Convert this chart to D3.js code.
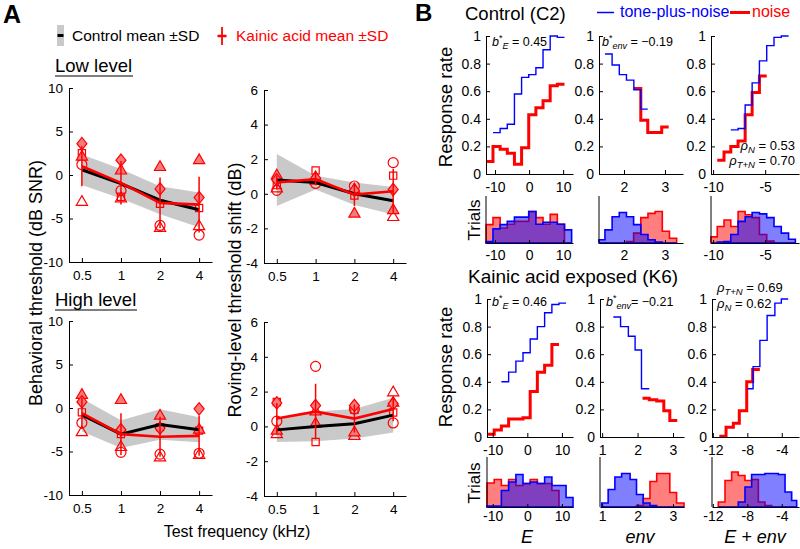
<!DOCTYPE html>
<html><head><meta charset="utf-8">
<script src="https://cdn.jsdelivr.net/npm/d3@7"></script>
<style>
body{margin:0;background:#fff;}
svg{display:block;font-family:"Liberation Sans",Arial,sans-serif;}
</style></head><body>
<svg id="chart" width="800" height="549"></svg>
<script>
// ---------------- DATA: Panel A ----------------
const freqLabels = ["0.5", "1", "2", "4"];
const subjectShapes = ["circle", "square", "triangle", "triangle", "diamond"];
const subjectFilled = [false, false, false, true, true];

// Low level, behavioral threshold (dB SNR)
const lowThrCtrlMean = [0.6, -1.0, -2.9, -4.0];
const lowThrCtrlSD = [1.75, 1.7, 1.6, 2.0];
const lowThrKAMean = [1.0, -0.9, -3.2, -3.4];
const lowThrKASD = [2.3, 2.5, 2.9, 3.2];
const lowThrCircle = [1.2, -1.8, -5.8, -6.9];
const lowThrSquare = [2.5, -2.5, -3.3, -3.8];
const lowThrTriOpen = [-3.0, -2.6, -6.0, -5.8];
const lowThrTriFilled = [2.2, 0.6, 1.0, 1.8];
const lowThrDiamond = [3.6, 1.7, -1.6, -2.6];

// Low level, roving-level threshold shift (dB)
const lowShiftCtrlMean = [0.8, 0.65, 0.0, -0.4];
const lowShiftCtrlSD = [1.5, 0.4, 0.65, 0.8];
const lowShiftKAMean = [0.65, 0.85, -0.05, 0.15];
const lowShiftKASD = [0.4, 0.35, 0.65, 1.3];
const lowShiftCircle = [0.2, 0.6, 0.45, 1.8];
const lowShiftSquare = [0.5, 1.35, -0.1, 1.05];
const lowShiftTriOpen = [0.35, 0.8, 0.3, -1.3];
const lowShiftTriFilled = [1.1, 1.0, -1.1, -0.9];
const lowShiftDiamond = [0.8, 0.9, 0.2, 0.25];

// High level, behavioral threshold (dB SNR)
const highThrCtrlMean = [-0.8, -3.0, -1.9, -2.5];
const highThrCtrlSD = [1.9, 1.6, 1.75, 1.45];
const highThrKAMean = [-0.6, -3.0, -3.3, -3.2];
const highThrKASD = [1.8, 2.4, 2.3, 2.3];
const highThrCircle = [-1.7, -5.1, -5.3, -5.2];
const highThrSquare = [-0.5, -3.0, -2.2, -2.6];
const highThrTriOpen = [-2.7, -4.4, -5.6, -5.3];
const highThrTriFilled = [1.6, 1.0, -0.8, -2.4];
const highThrDiamond = [0.7, -2.5, -2.3, -0.1];

// High level, roving-level threshold shift (dB)
const highShiftCtrlMean = [-0.2, 0.0, 0.15, 0.65];
const highShiftCtrlSD = [0.7, 0.85, 0.85, 1.0];
const highShiftKAMean = [0.45, 0.85, 0.45, 1.0];
const highShiftKASD = [0.9, 1.6, 0.8, 0.7];
const highShiftCircle = [0.3, 3.45, 1.0, 0.2];
const highShiftSquare = [1.4, -0.9, 0.95, 0.8];
const highShiftTriOpen = [-0.4, 0.9, -0.5, 2.0];
const highShiftTriFilled = [-0.2, 0.2, -0.3, 1.4];
const highShiftDiamond = [1.35, 1.2, 1.2, 1.3];

const thrTicks = [-10, -5, 0, 5, 10];
const shiftTicks = [-4, -2, 0, 2, 4, 6];

// ---------------- DATA: Panel B ----------------
const respTicks = [0, 0.2, 0.4, 0.6, 0.8, 1];

// Control (C2) — E
const c2E_blueEdges = [-10.6, -8.5, -6.4, -4.3, -2.2, -0.1, 2.0, 4.1, 6.2, 8.3, 10.4];
const c2E_blueRate = [0.30, 0.33, 0.36, 0.58, 0.70, 0.72, 0.77, 0.90, 1.0, 0.99];
const c2E_redEdges = [-12.6, -10.6, -8.5, -6.4, -4.3, -2.2, -0.1, 2.0, 4.1, 6.2, 8.3, 10.4];
const c2E_redRate = [0.09, 0.20, 0.18, 0.15, 0.07, 0.19, 0.43, 0.48, 0.53, 0.64, 0.65];
const c2E_histEdges = [-12.6, -10.6, -8.5, -6.4, -4.3, -2.2, -0.1, 2.0, 4.1, 6.2, 8.3, 10.4, 12.5];
const c2E_histRed = [39, 54, 32, 40, 46, 46, 67, 54, 40, 61, 40, 0];
const c2E_histBlue = [3, 30, 39, 46, 55, 55, 67, 40, 44, 44, 40, 28];

// Control (C2) — env
const c2Env_blueEdges = [1.535, 1.71, 1.885, 2.06, 2.24, 2.41, 2.58];
const c2Env_blueRate = [0.87, 0.79, 0.72, 0.68, 0.61, 0.47];
const c2Env_redEdges = [2.24, 2.41, 2.58, 2.75, 2.92, 3.09];
const c2Env_redRate = [0.62, 0.39, 0.30, 0.30, 0.34];
const c2Env_histEdges = [1.39, 1.535, 1.71, 1.885, 2.06, 2.235, 2.41, 2.585, 2.76, 2.935, 3.11, 3.285];
const c2Env_histBlue = [7, 28, 56, 65, 56, 39, 18, 7, 2, 0, 0];
const c2Env_histRed = [0, 0, 0, 0, 3, 21, 54, 63, 67, 25, 10];

// Control (C2) — E + env
const c2Sum_blueEdges = [-8.3, -7.6, -6.92, -6.25, -5.55, -4.85, -4.15, -3.45, -2.75];
const c2Sum_blueRate = [0.32, 0.33, 0.50, 0.66, 0.82, 0.93, 0.99, 1.0];
const c2Sum_redEdges = [-9.6, -8.95, -8.3, -7.6, -6.92, -6.25, -5.55, -4.85];
const c2Sum_redRate = [0.10, 0.16, 0.20, 0.24, 0.43, 0.59, 0.71];
const c2Sum_histEdges = [-10.2, -9.6, -8.95, -8.3, -7.6, -6.92, -6.25, -5.55, -4.85, -4.15, -3.45, -2.75, -2.1];
const c2Sum_histRed = [13, 35, 49, 35, 67, 60, 54, 18, 4, 0, 0, 0];
const c2Sum_histBlue = [0, 2, 3, 18, 46, 56, 65, 62, 54, 35, 21, 8];

// Kainic acid exposed (K6) — E
const k6E_blueEdges = [-7.5, -5.4, -3.3, -1.25, 0.83, 2.9, 5.0, 7.1, 9.15, 11.2];
const k6E_blueRate = [0.40, 0.47, 0.55, 0.61, 0.71, 0.80, 0.90, 0.96, 0.97];
const k6E_redEdges = [-11.65, -9.57, -7.5, -5.4, -3.3, -1.25, 0.83, 2.9, 5.0, 7.1, 9.15];
const k6E_redRate = [0.02, 0.05, 0.08, 0.13, 0.13, 0.14, 0.33, 0.47, 0.52, 0.67];
const k6E_histEdges = [-11.65, -9.57, -7.5, -5.4, -3.3, -1.25, 0.83, 2.9, 5.0, 7.1, 9.15, 11.2, 13.2];
const k6E_histRed = [48, 55, 43, 55, 43, 47, 55, 47, 47, 33, 0, 0];
const k6E_histBlue = [2, 2, 33, 50, 65, 47, 50, 47, 60, 43, 43, 19];

// Kainic acid exposed (K6) — env
const k6Env_blueEdges = [1.315, 1.52, 1.74, 1.93, 2.11, 2.33];
const k6Env_blueRate = [0.87, 0.80, 0.73, 0.63, 0.35];
const k6Env_redEdges = [2.14, 2.33, 2.54, 2.74, 2.91, 3.12];
const k6Env_redRate = [0.28, 0.27, 0.26, 0.19, 0.12];
const k6Env_histEdges = [0.99, 1.17, 1.36, 1.55, 1.79, 1.97, 2.16, 2.35, 2.54, 2.72, 2.91, 3.10, 3.31];
const k6Env_histBlue = [8, 35, 60, 67, 55, 25, 8, 3, 0, 0, 0, 0];
const k6Env_histRed = [0, 0, 0, 0, 0, 3, 17, 51, 67, 67, 29, 8];

// Kainic acid exposed (K6) — E + env
const k6Sum_blueEdges = [-8.0, -7.33, -6.54, -5.7, -4.8, -4.05, -3.26];
const k6Sum_blueRate = [0.35, 0.51, 0.70, 0.88, 0.97, 1.0];
const k6Sum_redEdges = [-11.25, -10.47, -9.62, -8.93, -8.07, -7.38, -6.54];
const k6Sum_redRate = [0.005, 0.07, 0.10, 0.19, 0.40, 0.49];
const k6Sum_histEdges = [-11.37, -10.59, -9.82, -9.05, -8.27, -7.5, -6.72, -5.95, -5.17, -4.4, -3.62, -2.85, -2.27];
const k6Sum_histRed = [10, 53, 70, 63, 53, 55, 10, 3, 0, 0, 0, 0];
const k6Sum_histBlue = [0, 0, 0, 10, 40, 65, 65, 67, 67, 65, 30, 13];

// ---------------- DRAWING ----------------
const RED = "#ff0000";
const BLUE = "#0000ff";
const MFILL = "#f27a7a";
const svg = d3.select("#chart");

function styleAxis(g, size) {
  g.attr("font-family", null).attr("font-size", size);
  g.selectAll("text").attr("fill", "#000");
  g.selectAll("path,line").attr("stroke", "#000").attr("stroke-width", 1);
}

function markerPath(type) {
  switch (type) {
    case "circle": return "M5,0A5,5 0 1,1 -5,0A5,5 0 1,1 5,0Z";
    case "square": return "M-3.6,-3.6H3.6V3.6H-3.6Z";
    case "triangle": return "M0,-5.5L5.6,4.2L-5.6,4.2Z";
    default: return "M0,-6.2L5,0L0,6.2L-5,0Z";
  }
}

function drawA(c) {
  const idx = d3.range(freqLabels.length);
  const x = d3.scaleLinear().domain([-0.33, 3.33]).range([c.x0, c.x1]);
  const y = d3.scaleLinear().domain(c.yDomain).range([c.yb, c.yt]);
  const g = svg.append("g");
  g.append("path").datum(idx)
    .attr("d", d3.area().x(i => x(i)).y0(i => y(c.cm[i] - c.csd[i])).y1(i => y(c.cm[i] + c.csd[i])))
    .attr("fill", "#c9c9c9");
  c.subj.forEach((vals, s) => {
    vals.forEach((v, i) => {
      g.append("path").attr("transform", `translate(${x(i)},${y(v)})`)
        .attr("d", markerPath(subjectShapes[s]))
        .attr("fill", subjectFilled[s] ? MFILL : "none")
        .attr("stroke", RED).attr("stroke-width", 1.2);
    });
  });
  g.append("path").datum(idx)
    .attr("d", d3.line().x(i => x(i)).y(i => y(c.cm[i])))
    .attr("fill", "none").attr("stroke", "#000").attr("stroke-width", 3);
  idx.forEach(i => {
    g.append("line").attr("x1", x(i)).attr("x2", x(i))
      .attr("y1", y(c.km[i] - c.ksd[i])).attr("y2", y(c.km[i] + c.ksd[i]))
      .attr("stroke", RED).attr("stroke-width", 1.5);
  });
  g.append("path").datum(idx)
    .attr("d", d3.line().x(i => x(i)).y(i => y(c.km[i])))
    .attr("fill", "none").attr("stroke", RED).attr("stroke-width", 2.6);
  const ax = g.append("g").attr("transform", `translate(0,${c.yb})`)
    .call(d3.axisBottom(x).tickValues(idx).tickFormat(i => freqLabels[i]).tickSizeInner(-4).tickSizeOuter(0).tickPadding(8));
  styleAxis(ax, 13.5);
  const ay = g.append("g").attr("transform", `translate(${c.x0},0)`)
    .call(d3.axisLeft(y).tickValues(c.yTicks).tickFormat(d => String(d)).tickSizeInner(-4).tickSizeOuter(0).tickPadding(6));
  styleAxis(ay, 13.5);
}

drawA({x0: 69, x1: 212, yt: 88, yb: 262, yDomain: [-10, 10], yTicks: thrTicks,
  cm: lowThrCtrlMean, csd: lowThrCtrlSD, km: lowThrKAMean, ksd: lowThrKASD,
  subj: [lowThrCircle, lowThrSquare, lowThrTriOpen, lowThrTriFilled, lowThrDiamond]});
drawA({x0: 264, x1: 406, yt: 90, yb: 263, yDomain: [-4, 6], yTicks: shiftTicks,
  cm: lowShiftCtrlMean, csd: lowShiftCtrlSD, km: lowShiftKAMean, ksd: lowShiftKASD,
  subj: [lowShiftCircle, lowShiftSquare, lowShiftTriOpen, lowShiftTriFilled, lowShiftDiamond]});
drawA({x0: 69, x1: 212, yt: 321, yb: 495, yDomain: [-10, 10], yTicks: thrTicks,
  cm: highThrCtrlMean, csd: highThrCtrlSD, km: highThrKAMean, ksd: highThrKASD,
  subj: [highThrCircle, highThrSquare, highThrTriOpen, highThrTriFilled, highThrDiamond]});
drawA({x0: 264, x1: 406, yt: 322, yb: 496, yDomain: [-4, 6], yTicks: shiftTicks,
  cm: highShiftCtrlMean, csd: highShiftCtrlSD, km: highShiftKAMean, ksd: highShiftKASD,
  subj: [highShiftCircle, highShiftSquare, highShiftTriOpen, highShiftTriFilled, highShiftDiamond]});

// Panel A texts
svg.append("text").attr("x", 3).attr("y", 23).attr("font-size", 25).attr("font-weight", "bold").text("A");
svg.append("rect").attr("x", 57).attr("y", 25).attr("width", 7).attr("height", 21).attr("fill", "#c9c9c9");
svg.append("line").attr("x1", 57.5).attr("x2", 63.5).attr("y1", 35.5).attr("y2", 35.5).attr("stroke", "#000").attr("stroke-width", 3);
svg.append("text").attr("x", 72).attr("y", 41).attr("font-size", 15.5).text("Control mean ±SD");
svg.append("line").attr("x1", 222).attr("x2", 222).attr("y1", 27).attr("y2", 45).attr("stroke", RED).attr("stroke-width", 1.8);
svg.append("line").attr("x1", 217.5).attr("x2", 226.5).attr("y1", 36).attr("y2", 36).attr("stroke", RED).attr("stroke-width", 2.5);
svg.append("text").attr("x", 236).attr("y", 41).attr("font-size", 15.5).attr("fill", RED).text("Kainic acid mean ±SD");
svg.append("text").attr("x", 55).attr("y", 72).attr("font-size", 18.5).text("Low level");
svg.append("line").attr("x1", 55).attr("x2", 133).attr("y1", 76).attr("y2", 76).attr("stroke", "#000").attr("stroke-width", 1.2);
svg.append("text").attr("x", 55).attr("y", 306).attr("font-size", 18.5).text("High level");
svg.append("line").attr("x1", 55).attr("x2", 137).attr("y1", 310).attr("y2", 310).attr("stroke", "#000").attr("stroke-width", 1.2);
svg.append("text").attr("transform", "translate(42,283) rotate(-90)").attr("text-anchor", "middle").attr("font-size", 18).text("Behavioral threshold (dB SNR)");
svg.append("text").attr("transform", "translate(241,290) rotate(-90)").attr("text-anchor", "middle").attr("font-size", 18).text("Roving-level threshold shift (dB)");
svg.append("text").attr("x", 237).attr("y", 537).attr("text-anchor", "middle").attr("font-size", 16).text("Test frequency (kHz)");

// ---------- Panel B ----------
function stepPts(edges, vals) {
  const p = vals.map((v, i) => [edges[i], v]);
  p.push([edges[vals.length], vals[vals.length - 1]]);
  return p;
}

function respPanel(c) {
  const x = d3.scaleLinear().domain(c.xd).range([c.x0, c.x1]);
  const y = d3.scaleLinear().domain([0, 1]).range([c.yb, c.yt]);
  const g = svg.append("g");
  const line = d3.line().x(d => x(d[0])).y(d => y(d[1])).curve(d3.curveStepAfter);
  g.append("path").attr("d", line(stepPts(c.redE, c.redV))).attr("fill", "none").attr("stroke", RED).attr("stroke-width", 3);
  g.append("path").attr("d", line(stepPts(c.blueE, c.blueV))).attr("fill", "none").attr("stroke", BLUE).attr("stroke-width", 1.4);
  const ax = g.append("g").attr("transform", `translate(0,${c.yb})`)
    .call(d3.axisBottom(x).tickValues(c.ticks).tickFormat(d => String(d)).tickSizeInner(-4).tickSizeOuter(0).tickPadding(8));
  styleAxis(ax, 14);
  const ay = g.append("g").attr("transform", `translate(${c.x0},0)`)
    .call(d3.axisLeft(y).tickValues(respTicks).tickFormat(d => d === 0 ? "0" : d === 1 ? "1" : d.toFixed(1)).tickSizeInner(-4).tickSizeOuter(0).tickPadding(5));
  styleAxis(ay, 14);
}

function histPanel(c) {
  const x = d3.scaleLinear().domain(c.xd).range([c.x0, c.x1]);
  const y = d3.scaleLinear().domain([0, 100]).range([c.yb, c.yt]);
  const g = svg.append("g");
  const line = d3.line().x(d => x(d[0])).y(d => y(d[1])).curve(d3.curveStepAfter);
  function pts(vals) {
    const p = [[c.edges[0], 0]].concat(stepPts(c.edges, vals));
    p.push([c.edges[vals.length], 0]);
    return p;
  }
  g.append("path").attr("d", line(pts(c.red)) + "Z").attr("fill", RED).attr("fill-opacity", 0.5)
    .attr("stroke", RED).attr("stroke-width", 1.6);
  g.append("path").attr("d", line(pts(c.blue)) + "Z").attr("fill", BLUE).attr("fill-opacity", 0.5)
    .attr("stroke", BLUE).attr("stroke-width", 1.6);
  const ax = g.append("g").attr("transform", `translate(0,${c.yb})`)
    .call(d3.axisBottom(x).tickValues(c.ticks).tickFormat(d => String(d)).tickSizeInner(-3).tickSizeOuter(0).tickPadding(c.pad));
  styleAxis(ax, 14);
  g.append("line").attr("x1", c.x0).attr("x2", c.x0).attr("y1", c.yt).attr("y2", c.yb).attr("stroke", "#000");
}

// layouts (top row: C2, bottom row: K6)
const colE = {x0: 486, x1: 573};
const colEnv = {x0: 599, x1: 683};
const colSum = {x0: 711, x1: 799};

respPanel({...colE, yt: 36, yb: 174, xd: [-12.65, 12.9], ticks: [-10, 0, 10],
  redE: c2E_redEdges, redV: c2E_redRate, blueE: c2E_blueEdges, blueV: c2E_blueRate});
respPanel({...colEnv, yt: 36, yb: 174, xd: [1.39, 3.44], ticks: [2, 3],
  redE: c2Env_redEdges, redV: c2Env_redRate, blueE: c2Env_blueEdges, blueV: c2Env_blueRate});
respPanel({...colSum, yt: 36, yb: 174, xd: [-10.2, -1.75], ticks: [-10, -5],
  redE: c2Sum_redEdges, redV: c2Sum_redRate, blueE: c2Sum_blueEdges, blueV: c2Sum_blueRate});
histPanel({...colE, yt: 196, yb: 243, pad: 7, xd: [-12.65, 12.9], ticks: [-10, 0, 10],
  edges: c2E_histEdges, red: c2E_histRed, blue: c2E_histBlue});
histPanel({...colEnv, yt: 196, yb: 243, pad: 7, xd: [1.39, 3.44], ticks: [2, 3],
  edges: c2Env_histEdges, red: c2Env_histRed, blue: c2Env_histBlue});
histPanel({...colSum, yt: 196, yb: 243, pad: 7, xd: [-10.2, -1.75], ticks: [-10, -5],
  edges: c2Sum_histEdges, red: c2Sum_histRed, blue: c2Sum_histBlue});

respPanel({x0: 487, x1: 573, yt: 299, yb: 437, xd: [-11.65, 13.2], ticks: [-10, 0, 10],
  redE: k6E_redEdges, redV: k6E_redRate, blueE: k6E_blueEdges, blueV: k6E_blueRate});
respPanel({x0: 600, x1: 684, yt: 299, yb: 437, xd: [0.94, 3.31], ticks: [1, 2, 3],
  redE: k6Env_redEdges, redV: k6Env_redRate, blueE: k6Env_blueEdges, blueV: k6Env_blueRate});
respPanel({x0: 712, x1: 799, yt: 299, yb: 437, xd: [-12.1, -2.0], ticks: [-12, -8, -4],
  redE: k6Sum_redEdges, redV: k6Sum_redRate, blueE: k6Sum_blueEdges, blueV: k6Sum_blueRate});
histPanel({x0: 487, x1: 573, yt: 457, yb: 507, pad: 4, xd: [-11.65, 13.2], ticks: [-10, 0, 10],
  edges: k6E_histEdges, red: k6E_histRed, blue: k6E_histBlue});
histPanel({x0: 600, x1: 684, yt: 457, yb: 507, pad: 4, xd: [0.94, 3.31], ticks: [1, 2, 3],
  edges: k6Env_histEdges, red: k6Env_histRed, blue: k6Env_histBlue});
histPanel({x0: 712, x1: 799, yt: 457, yb: 507, pad: 4, xd: [-12.1, -2.0], ticks: [-12, -8, -4],
  edges: k6Sum_histEdges, red: k6Sum_histRed, blue: k6Sum_histBlue});

// Panel B texts
svg.append("text").attr("x", 415).attr("y", 21).attr("font-size", 24).attr("font-weight", "bold").text("B");
svg.append("text").attr("x", 465).attr("y", 20).attr("font-size", 18.5).text("Control (C2)");
svg.append("line").attr("x1", 597).attr("x2", 614).attr("y1", 12.5).attr("y2", 12.5).attr("stroke", BLUE).attr("stroke-width", 1.5);
svg.append("text").attr("x", 620).attr("y", 17).attr("font-size", 16).attr("fill", BLUE).text("tone-plus-noise");
svg.append("line").attr("x1", 730).attr("x2", 750).attr("y1", 12.5).attr("y2", 12.5).attr("stroke", RED).attr("stroke-width", 3);
svg.append("text").attr("x", 752).attr("y", 17).attr("font-size", 16).attr("fill", RED).text("noise");
svg.append("text").attr("x", 468).attr("y", 283).attr("font-size", 19).text("Kainic acid exposed (K6)");

[107, 367].forEach(cy => {
  svg.append("text").attr("transform", `translate(452,${cy}) rotate(-90)`).attr("text-anchor", "middle").attr("font-size", 18.5).text("Response rate");
});
[220, 483].forEach(cy => {
  svg.append("text").attr("transform", `translate(480,${cy}) rotate(-90)`).attr("text-anchor", "middle").attr("font-size", 17).text("Trials");
});

function bText(x, y, sub, val) {
  const t = svg.append("text").attr("x", x).attr("y", y).attr("font-size", 12.5);
  t.append("tspan").attr("font-style", "italic").text("b");
  t.append("tspan").attr("dy", -5).attr("font-size", 9).text("*");
  t.append("tspan").attr("dy", 8).attr("font-size", 9).attr("font-style", "italic").text(sub);
  t.append("tspan").attr("dy", -3).text(val);
}
bText(492, 46, "E", " = 0.45");
bText(602, 46, "env", " = \u22120.19");
bText(492, 306, "E", " = 0.46");
bText(606, 306, "env", "= \u22120.21");

function rhoText(x, y, sub, val, anchor) {
  const t = svg.append("text").attr("x", x).attr("y", y).attr("font-size", 13).attr("text-anchor", anchor);
  t.append("tspan").attr("font-style", "italic").text("\u03c1");
  t.append("tspan").attr("dy", 3).attr("font-size", 9.5).attr("font-style", "italic").text(sub);
  t.append("tspan").attr("dy", -3).text(val);
}
rhoText(795, 150, "N", " = 0.53", "end");
rhoText(795, 165, "T+N", " = 0.70", "end");
rhoText(717, 292, "T+N", " = 0.69", "start");
rhoText(717, 308, "N", " = 0.62", "start");

const xl = [[527, "E"], [640, "env"], [755, "E + env"]];
xl.forEach(([cx, s]) => {
  svg.append("text").attr("x", cx).attr("y", 543).attr("text-anchor", "middle").attr("font-size", 18).attr("font-style", "italic").text(s);
});
</script></body></html>
